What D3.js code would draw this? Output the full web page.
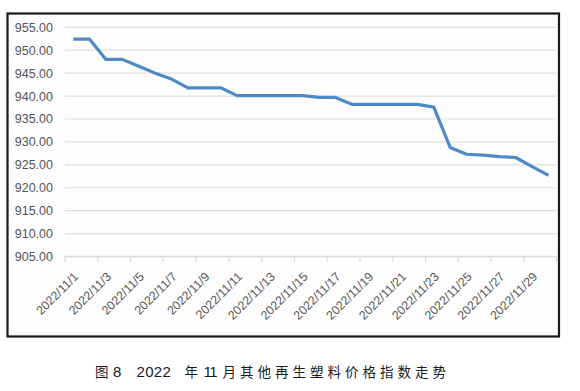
<!DOCTYPE html>
<html><head><meta charset="utf-8">
<script src="https://cdn.jsdelivr.net/npm/d3@7"></script>
<style>
html,body{margin:0;padding:0;background:#fff;}
svg{display:block;}
</style></head>
<body><svg id="c" width="580" height="391"></svg>
<script>
const dates = ["2022/11/1","2022/11/2","2022/11/3","2022/11/4","2022/11/5","2022/11/6","2022/11/7","2022/11/8","2022/11/9","2022/11/10",
"2022/11/11","2022/11/12","2022/11/13","2022/11/14","2022/11/15","2022/11/16","2022/11/17","2022/11/18","2022/11/19","2022/11/20",
"2022/11/21","2022/11/22","2022/11/23","2022/11/24","2022/11/25","2022/11/26","2022/11/27","2022/11/28","2022/11/29","2022/11/30"];
const values = [952.4,952.4,948.0,948.0,946.5,945.0,943.7,941.8,941.8,941.8,
940.1,940.1,940.1,940.1,940.1,939.7,939.7,938.2,938.2,938.2,
938.2,938.2,937.6,928.8,927.3,927.1,926.8,926.6,924.6,922.7];
const yTicks = [905,910,915,920,925,930,935,940,945,950,955];
const captionParts = ["图","8","2022","年","11","月其他再生塑料价格指数走势"];

(function(){
const svg = d3.select("#c");
const pL = 65, pR = 556.7, pT = 27.3, pB = 256.5;

svg.append("rect").attr("x",7.5).attr("y",13.5).attr("width",551.5).attr("height",323)
  .attr("fill","#fdfdfd").attr("stroke","#1a1a1a").attr("stroke-width",2.2);

const x = d3.scaleBand().domain(dates).range([pL,pR]).padding(0);
const y = d3.scaleLinear().domain([905,955]).range([pB,pT]);

svg.append("g").selectAll("line").data(yTicks.slice(1)).join("line")
  .attr("x1",pL).attr("x2",pR)
  .attr("y1",d=>y(d)).attr("y2",d=>y(d))
  .attr("stroke","#e3dedb").attr("stroke-width",1.2);

const ya = svg.append("g").attr("transform",`translate(${pL-9},0)`)
  .call(d3.axisLeft(y).tickValues(yTicks).tickFormat(d3.format(".2f")).tickSize(0));
ya.select(".domain").remove();
ya.selectAll("text").attr("font-family","Liberation Sans, Arial, sans-serif")
  .attr("font-size",12.5).attr("fill","#555").attr("dx",0);

svg.append("line").attr("x1",pL).attr("x2",pR).attr("y1",pB).attr("y2",pB)
  .attr("stroke","#e0dcd9").attr("stroke-width",1.4);
const tickPos = dates.filter((d,i)=>i%2===0).map(d=>x(d)).concat([pR]);
svg.append("g").selectAll("line").data(tickPos).join("line")
  .attr("x1",d=>d).attr("x2",d=>d).attr("y1",pB).attr("y2",pB+5)
  .attr("stroke","#dcd8d5").attr("stroke-width",1.2);

const labels = dates.filter((d,i)=>i%2===0);
svg.append("g").selectAll("text").data(labels).join("text")
  .attr("transform",d=>`translate(${x(d)+x.bandwidth()/2+6},${pB+21}) rotate(-45)`)
  .attr("text-anchor","end")
  .attr("font-family","Liberation Sans, Arial, sans-serif")
  .attr("font-size",12.3).attr("fill","#555")
  .text(d=>d);

const line = d3.line().x((d,i)=>x(dates[i])+x.bandwidth()/2).y(d=>y(d));
svg.append("path").datum(values).attr("d",line).attr("fill","none")
  .attr("stroke","#4f8ac6").attr("stroke-width",3.2).attr("stroke-linejoin","round");

// caption: CJK letter-spaced, digits plain
const capX = [95,113,136.5,184.5,203.5,222.5];
const cap = svg.append("g");
captionParts.forEach((t,i)=>{
  const isNum = /^[0-9]+$/.test(t);
  cap.append("text").attr("x",capX[i]).attr("y",376.5)
    .attr("font-family", isNum ? "Liberation Sans, Arial, sans-serif" : "Noto Sans CJK SC, sans-serif")
    .attr("font-size", isNum ? 15 : 13.5)
    .attr("letter-spacing", isNum ? (t==="11" ? -1.5 : 0.3) : 4.0)
    .attr("fill","#1a1a1a").text(t);
});
})();
</script></body></html>
